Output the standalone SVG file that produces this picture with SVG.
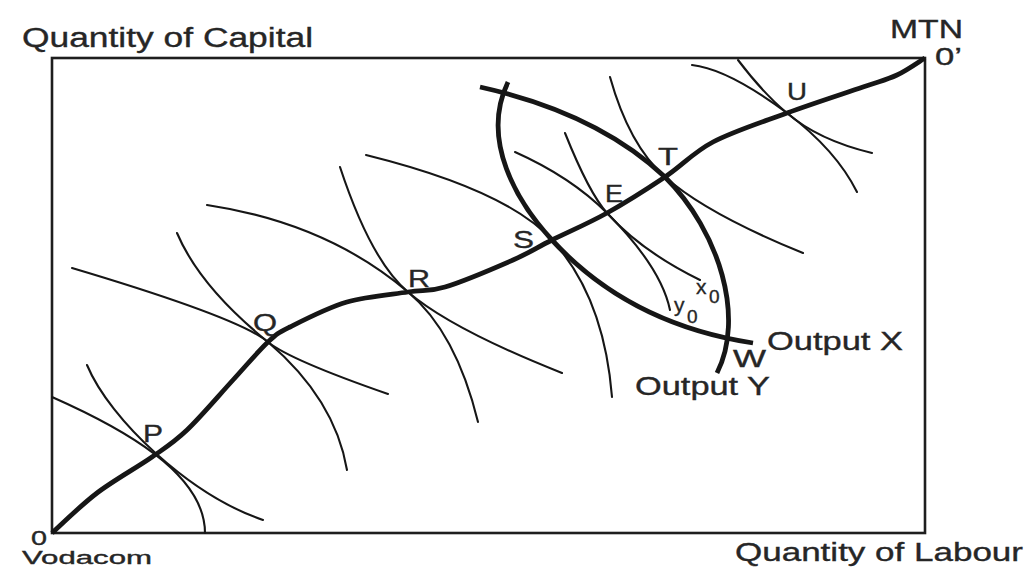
<svg xmlns="http://www.w3.org/2000/svg" width="1031" height="568" viewBox="0 0 1031 568">
<style>
.frame{fill:none;stroke:#1e1e1e;stroke-width:2.6}
.thin{fill:none;stroke:#161616;stroke-width:2.1;stroke-linecap:round}
.thick{fill:none;stroke:#161616;stroke-width:4.8;stroke-linecap:butt;stroke-linejoin:round}
text{font-family:"Liberation Sans",Arial,sans-serif;fill:#262626;stroke:#262626;stroke-width:0.35}
.ax{font-size:27px}
.pt{font-size:23px}
.sm{font-size:21px}
.sub{font-size:19px}
</style>
<rect width="1031" height="568" fill="#ffffff"/>
<g id="frame">
<rect class="frame" x="52" y="58" width="873" height="475"/>
</g>
<g id="axis-labels">
<text class="ax" x="22" y="47" textLength="291" lengthAdjust="spacingAndGlyphs">Quantity of Capital</text>
<text x="735" y="561" style="font-size:25px" textLength="288" lengthAdjust="spacingAndGlyphs">Quantity of Labour</text>
<text x="890" y="38" style="font-size:25px" textLength="73" lengthAdjust="spacingAndGlyphs">MTN</text>
<text x="935" y="65" style="font-size:24px" textLength="27" lengthAdjust="spacingAndGlyphs">0’</text>
<text x="31" y="545" style="font-size:20px" textLength="16" lengthAdjust="spacingAndGlyphs">0</text>
<text x="22" y="564" style="font-size:18px" textLength="130" lengthAdjust="spacingAndGlyphs">Vodacom</text>
</g>
<g id="connectors">
<g id="isoquants">
<path class="thin" d="M52,397 C122,428 205,473 205,533"/>
<path class="thin" d="M87,365 C110,420 190,495 263,520"/>
<path class="thin" d="M72,268 Q240,318 268,342 Q335,399 347,470"/>
<path class="thin" d="M177,233 Q200,287 268,342 Q290,360 388,394"/>
<path class="thin" d="M207,205 Q327,223 408,292 Q456,332 478,422"/>
<path class="thin" d="M340,167 Q371,261 408,292 Q451,329 562,373"/>
<path class="thin" d="M366,155 Q507,190 552,240 Q604,297 612,397"/>
<path class="thin" d="M515,152 Q571,177 607,213 Q661,267 670,310"/>
<path class="thin" d="M565,133 Q589,193 607,213 Q641,251 700,280"/>
<path class="thin" d="M610,77 Q629,145 665,177 Q707,214 803,253"/>
<path class="thin" d="M692,65 Q728,69 787,113 Q836,150 857,192"/>
<path class="thin" d="M738,60 Q763,93 787,113 Q818,140 872,153"/>
</g>
<g id="output-curves">
<path id="output-x" class="thick" d="M508,82 C480,140 517,202 552,240 Q629,324 753,343"/>
<path id="output-y" class="thick" d="M480,87 Q597,113 665,177 C720,232 745,318 717,373"/>
</g>
<path id="contract-curve" class="thick" d="M52,533 C59.5,526.3 80.3,505.7 97,493 C113.7,480.3 137,467.5 152,457 C167,446.5 173.5,442.8 187,430 C200.5,417.2 219.5,394.7 233,380 C246.5,365.3 258.5,350.8 268,342 C277.5,333.2 276.8,333.7 290,327 C303.2,320.3 327.3,307.8 347,302 C366.7,296.2 391.7,294.5 408,292 C424.3,289.5 427.5,292.3 445,287 C462.5,281.7 495.2,267.8 513,260 C530.8,252.2 536.3,247.8 552,240 C567.7,232.2 588.2,223.5 607,213 C625.8,202.5 647.3,188.8 665,177 C682.7,165.2 692.7,152.7 713,142 C733.3,131.3 762,122.2 787,113 C812,103.8 844.7,93.3 863,87 C881.3,80.7 886.7,79.8 897,75 C907.3,70.2 920.3,60.8 925,58"/>
</g>
<g id="point-P"><text class="pt" x="143" y="442" textLength="20" lengthAdjust="spacingAndGlyphs">P</text></g>
<g id="point-Q"><text class="pt" x="253" y="331" textLength="24" lengthAdjust="spacingAndGlyphs">Q</text></g>
<g id="point-R"><text class="pt" x="408" y="287" textLength="22" lengthAdjust="spacingAndGlyphs">R</text></g>
<g id="point-S"><text class="pt" x="513" y="248" textLength="21" lengthAdjust="spacingAndGlyphs">S</text></g>
<g id="point-E"><text class="pt" x="605" y="202" textLength="18" lengthAdjust="spacingAndGlyphs">E</text></g>
<g id="point-T"><text class="pt" x="658" y="165" textLength="20" lengthAdjust="spacingAndGlyphs">T</text></g>
<g id="point-U"><text class="pt" x="787" y="100" textLength="20" lengthAdjust="spacingAndGlyphs">U</text></g>
<g id="point-W"><text class="pt" x="733" y="367" textLength="33" lengthAdjust="spacingAndGlyphs">W</text></g>
<g id="label-x0"><text class="sm" x="696" y="294">x<tspan class="sub" x="709" y="303">0</tspan></text></g>
<g id="label-y0"><text class="sm" x="674" y="312">y<tspan class="sub" x="687" y="323">0</tspan></text></g>
<g id="label-output-x"><text x="767" y="350" style="font-size:25px" textLength="136" lengthAdjust="spacingAndGlyphs">Output X</text></g>
<g id="label-output-y"><text x="635" y="395" style="font-size:25px" textLength="135" lengthAdjust="spacingAndGlyphs">Output Y</text></g>
</svg>
